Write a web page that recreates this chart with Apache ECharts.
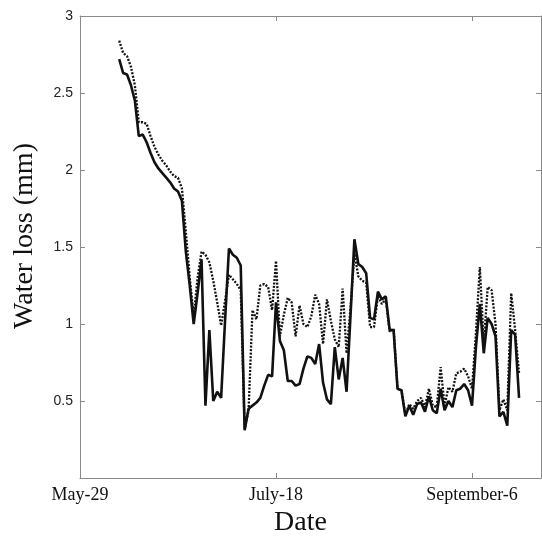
<!DOCTYPE html>
<html>
<head>
<meta charset="utf-8">
<script src="https://cdn.jsdelivr.net/npm/echarts@6/dist/echarts.min.js"></script>
<style>
  html, body { margin: 0; padding: 0; background: #fff; }
  #chart { width: 542px; height: 542px; }
</style>
</head>
<body>
<div id="chart"></div>
<script>
// Day numbers count from May-29 (day 0); both series are daily from day 10.
const firstDay = 10;

// Tick labels on the date axis, keyed by day number
const dateTickDays = [0, 50, 100];
const dateTickLabels = ['May-29', 'July-18', 'September-6'];

// Y tick labels (0 is left unlabelled)
const yTicks = [0.5, 1, 1.5, 2, 2.5, 3];

// Solid line: daily water loss (mm)
const solidLoss = [
  2.72, 2.63, 2.62, 2.55, 2.45, 2.22, 2.23, 2.18, 2.11, 2.05,
  2.01, 1.98, 1.95, 1.92, 1.88, 1.86, 1.80, 1.47, 1.25, 1.00,
  1.20, 1.42, 0.47, 0.96, 0.50, 0.56, 0.52, 1.02, 1.49, 1.45,
  1.43, 1.38, 0.31, 0.45, 0.47, 0.49, 0.52, 0.60, 0.67, 0.66,
  1.14, 0.89, 0.83, 0.63, 0.63, 0.60, 0.61, 0.71, 0.79, 0.78,
  0.74, 0.87, 0.62, 0.51, 0.48, 0.85, 0.64, 0.78, 0.56, 1.05,
  1.55, 1.39, 1.37, 1.33, 1.04, 1.03, 1.21, 1.16, 1.18, 0.96,
  0.96, 0.58, 0.57, 0.40, 0.47, 0.41, 0.48, 0.49, 0.43, 0.53,
  0.44, 0.42, 0.58, 0.44, 0.50, 0.46, 0.57, 0.58, 0.61, 0.57,
  0.47, 0.85, 1.13, 0.81, 1.04, 1.00, 0.92, 0.40, 0.43, 0.34,
  0.96, 0.93, 0.52
];

// Dotted line: daily water loss (mm)
const dottedLoss = [
  2.84, 2.76, 2.74, 2.67, 2.55, 2.31, 2.31, 2.30, 2.22, 2.15,
  2.10, 2.06, 2.03, 1.99, 1.96, 1.95, 1.88, 1.60, 1.30, 1.05,
  1.30, 1.47, 1.45, 1.40, 1.28, 1.14, 0.99, 1.15, 1.32, 1.29,
  1.26, 1.22, 0.32, 0.44, 1.09, 1.03, 1.25, 1.26, 1.24, 1.09,
  1.41, 0.92, 1.06, 1.17, 1.14, 0.92, 1.12, 1.00, 0.98, 1.05,
  1.19, 1.13, 0.87, 1.16, 1.02, 0.90, 0.85, 1.23, 0.81, 1.10,
  1.46, 1.31, 1.28, 1.27, 0.98, 0.98, 1.18, 1.13, 1.16, 0.95,
  0.97, 0.58, 0.57, 0.41, 0.48, 0.45, 0.50, 0.52, 0.46, 0.58,
  0.47, 0.46, 0.72, 0.47, 0.59, 0.56, 0.68, 0.69, 0.71, 0.66,
  0.58, 0.94, 1.37, 0.87, 1.24, 1.22, 1.00, 0.44, 0.51, 0.44,
  1.20, 0.96, 0.68
];

const toPairs = arr => arr.map((v, i) => [firstDay + i, v]);

const frameColor = '#8a8a8a';
const serif = "'Liberation Serif', 'Times New Roman', serif";
const sans = "'Liberation Sans', Arial, sans-serif";

const dateLabel = v => {
  const k = dateTickDays.indexOf(Math.round(v * 1000) / 1000);
  return k >= 0 ? dateTickLabels[k] : '';
};
const yLabel = v => (yTicks.indexOf(v) >= 0 ? String(v) : '');

// Shared frame styling: thin grey box with short inward ticks on all four sides
const frameLine = { show: true, onZero: false, lineStyle: { color: frameColor, width: 1 } };
const frameTick = { show: true, inside: true, length: 5, lineStyle: { color: frameColor } };

const chart = echarts.init(document.getElementById('chart'), null, { renderer: 'canvas' });

chart.setOption({
  animation: false,
  backgroundColor: '#ffffff',
  grid: { left: 80, top: 16, right: 1, bottom: 64, containLabel: false },
  xAxis: [
    {
      type: 'value',
      position: 'bottom',
      min: 0,
      max: 117.6,
      interval: 50,
      name: 'Date',
      nameLocation: 'middle',
      nameGap: 30,
      nameTextStyle: { fontFamily: serif, fontSize: 28, color: '#111', padding: [0, 20, 0, 0] },
      axisLine: frameLine,
      axisTick: frameTick,
      axisLabel: { formatter: dateLabel, fontFamily: serif, fontSize: 18, color: '#111', margin: 8, showMaxLabel: false },
      splitLine: { show: false }
    },
    {
      type: 'value',
      position: 'top',
      min: 0,
      max: 117.6,
      interval: 50,
      axisLine: frameLine,
      axisTick: frameTick,
      axisLabel: { show: false },
      splitLine: { show: false }
    }
  ],
  yAxis: [
    {
      type: 'value',
      position: 'left',
      min: 0,
      max: 3,
      interval: 0.5,
      name: 'Water loss (mm)',
      nameLocation: 'middle',
      nameGap: 41,
      nameRotate: 90,
      nameTextStyle: { fontFamily: serif, fontSize: 28, color: '#111', padding: [0, 0, 0, 22] },
      axisLine: frameLine,
      axisTick: frameTick,
      axisLabel: { formatter: yLabel, fontFamily: sans, fontSize: 14, color: '#222', margin: 7 },
      splitLine: { show: false }
    },
    {
      type: 'value',
      position: 'right',
      min: 0,
      max: 3,
      interval: 0.5,
      axisLine: frameLine,
      axisTick: frameTick,
      axisLabel: { show: false },
      splitLine: { show: false }
    }
  ],
  series: [
    {
      type: 'line',
      data: toPairs(dottedLoss),
      showSymbol: false,
      symbol: 'none',
      lineStyle: { color: '#111', width: 2.3, type: [2, 1.5] },
      z: 2
    },
    {
      type: 'line',
      data: toPairs(solidLoss),
      showSymbol: false,
      symbol: 'none',
      lineStyle: { color: '#111', width: 2.6 },
      z: 3
    }
  ]
});
</script>
</body>
</html>
